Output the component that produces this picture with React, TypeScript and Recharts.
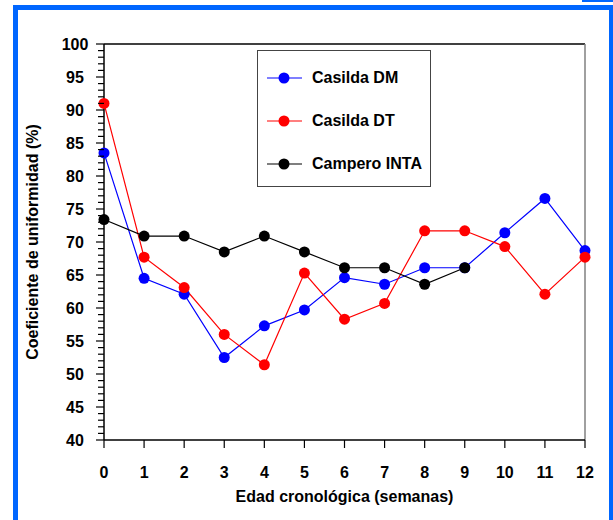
import { LineChart, Line, XAxis, YAxis, Legend, ReferenceLine } from "recharts";

const weeks = [0, 1, 2, 3, 4, 5, 6, 7, 8, 9, 10, 11, 12];
const casildaDM = [83.5, 64.5, 62.1, 52.5, 57.3, 59.7, 64.6, 63.6, 66.1, 66.1, 71.4, 76.6, 68.7];
const casildaDT = [91.0, 67.7, 63.1, 56.0, 51.4, 65.3, 58.3, 60.7, 71.7, 71.7, 69.3, 62.1, 67.7];
const camperoINTA = [73.4, 70.9, 70.9, 68.5, 70.9, 68.5, 66.1, 66.1, 63.6, 66.1, null, null, null];
const seriesNames = ["Casilda DM", "Casilda DT", "Campero INTA"];

const yLabels = [40, 45, 50, 55, 60, 65, 70, 75, 80, 85, 90, 95, 100];
// minor ticks every 1 unit between the labelled ones
const yTicks = Array.from({ length: 61 }, (_, i) => 40 + i);

const data = weeks.map((w, i) => ({
  week: w,
  dm: casildaDM[i],
  dt: casildaDT[i],
  inta: camperoINTA[i],
}));

const font = "'Liberation Sans', Arial, sans-serif";

const YTick = ({ x, y, payload }: any) => {
  const major = yLabels.includes(payload.value);
  return (
    <g>
      <line x1={x - (major ? 8 : 6)} x2={x} y1={y} y2={y} stroke="#000" strokeWidth={1.2} />
      {major && (
        <text x={x - 29} y={y} dy="0.36em" textAnchor="middle" fontSize={16} fontWeight="bold" fontFamily={font} fill="#000">
          {payload.value}
        </text>
      )}
    </g>
  );
};

const XTick = ({ x, y, payload }: any) => (
  <g>
    <line x1={x} x2={x} y1={y} y2={y + 8} stroke="#000" strokeWidth={1.2} />
    <text x={x} y={y + 38} textAnchor="middle" fontSize={16} fontWeight="bold" fontFamily={font} fill="#000">
      {payload.value}
    </text>
  </g>
);

const LegendBox = ({ payload }: any) => {
  const items = [...(payload || [])].sort((a: any, b: any) => seriesNames.indexOf(a.value) - seriesNames.indexOf(b.value));
  return (
    <div
      style={{
        position: "relative",
        width: 174,
        height: 137,
        boxSizing: "border-box",
        border: "1.5px solid #444",
        background: "#fff",
        fontFamily: font,
      }}
    >
      {items.map((p: any, i: number) => (
        <div
          key={p.value}
          style={{ position: "absolute", left: 0, top: 17 + i * 43, height: 20, display: "flex", alignItems: "center" }}
        >
          <svg width={52} height={20} style={{ display: "block" }}>
            <line x1={9} x2={44} y1={10} y2={10} stroke={p.color} strokeWidth={1.2} />
            <circle cx={26} cy={10} r={5.5} fill={p.color} />
          </svg>
          <span style={{ marginLeft: 2, fontSize: 16, fontWeight: "bold", color: "#000", whiteSpace: "nowrap" }}>{p.value}</span>
        </div>
      ))}
    </div>
  );
};

export default function App() {
  return (
    <div style={{ position: "absolute", left: 0, top: 0, width: 613, height: 520, overflow: "hidden", background: "#fff" }}>
      <div
        style={{
          position: "absolute",
          left: 13,
          top: 5,
          width: 601,
          height: 540,
          boxSizing: "border-box",
          border: "5px solid #0066ff",
        }}
      />
      <div style={{ position: "absolute", left: 582, top: 0, width: 31, height: 2, background: "#0066ff" }} />
      <div style={{ position: "absolute", left: 0, top: 0 }}>
        <LineChart width={613} height={520} data={data} margin={{ top: 44, right: 28, bottom: 50, left: 54 }}>
          <XAxis
            dataKey="week"
            type="number"
            domain={[0, 12]}
            ticks={weeks}
            interval={0}
            height={30}
            tickSize={0}
            tickMargin={0}
            tick={<XTick />}
            axisLine={{ stroke: "#000", strokeWidth: 1.5 }}
            tickLine={false}
            label={{
              content: ({ viewBox }: any) => (
                <text
                  x={viewBox.x + viewBox.width / 2}
                  y={viewBox.y + 62}
                  textAnchor="middle"
                  fontSize={16}
                  fontWeight="bold"
                  fontFamily={font}
                  fill="#000"
                >
                  Edad cronológica (semanas)
                </text>
              ),
            }}
          />
          <YAxis
            type="number"
            domain={[40, 100]}
            ticks={yTicks}
            interval={0}
            width={50}
            tickSize={0}
            tickMargin={0}
            tick={<YTick />}
            axisLine={{ stroke: "#000", strokeWidth: 1.5 }}
            tickLine={false}
            label={{
              content: ({ viewBox }: any) => {
                const cx = viewBox.x - 22;
                const cy = viewBox.y + viewBox.height / 2;
                return (
                  <text
                    x={cx}
                    y={cy}
                    transform={`rotate(-90 ${cx} ${cy})`}
                    textAnchor="middle"
                    dy="0.36em"
                    fontSize={16}
                    fontWeight="bold"
                    fontFamily={font}
                    fill="#000"
                  >
                    Coeficiente de uniformidad (%)
                  </text>
                );
              },
            }}
          />
          <ReferenceLine y={100} stroke="#000" strokeWidth={1.5} />
          <ReferenceLine x={12} stroke="#808080" strokeWidth={1.5} />
          <Legend
            layout="vertical"
            align="center"
            verticalAlign="middle"
            content={<LegendBox />}
            wrapperStyle={{ left: 257, top: 50, width: 174, height: 137 }}
          />
          <Line
            name="Casilda DM"
            dataKey="dm"
            type="linear"
            stroke="#0000ff"
            strokeWidth={1.2}
            dot={{ r: 5.5, fill: "#0000ff", stroke: "#0000ff", strokeWidth: 0 }}
            activeDot={false}
            isAnimationActive={false}
          />
          <Line
            name="Casilda DT"
            dataKey="dt"
            type="linear"
            stroke="#ff0000"
            strokeWidth={1.2}
            dot={{ r: 5.5, fill: "#ff0000", stroke: "#ff0000", strokeWidth: 0 }}
            activeDot={false}
            isAnimationActive={false}
          />
          <Line
            name="Campero INTA"
            dataKey="inta"
            type="linear"
            stroke="#000000"
            strokeWidth={1.2}
            dot={{ r: 5.5, fill: "#000000", stroke: "#000000", strokeWidth: 0 }}
            activeDot={false}
            isAnimationActive={false}
          />
        </LineChart>
      </div>
    </div>
  );
}
